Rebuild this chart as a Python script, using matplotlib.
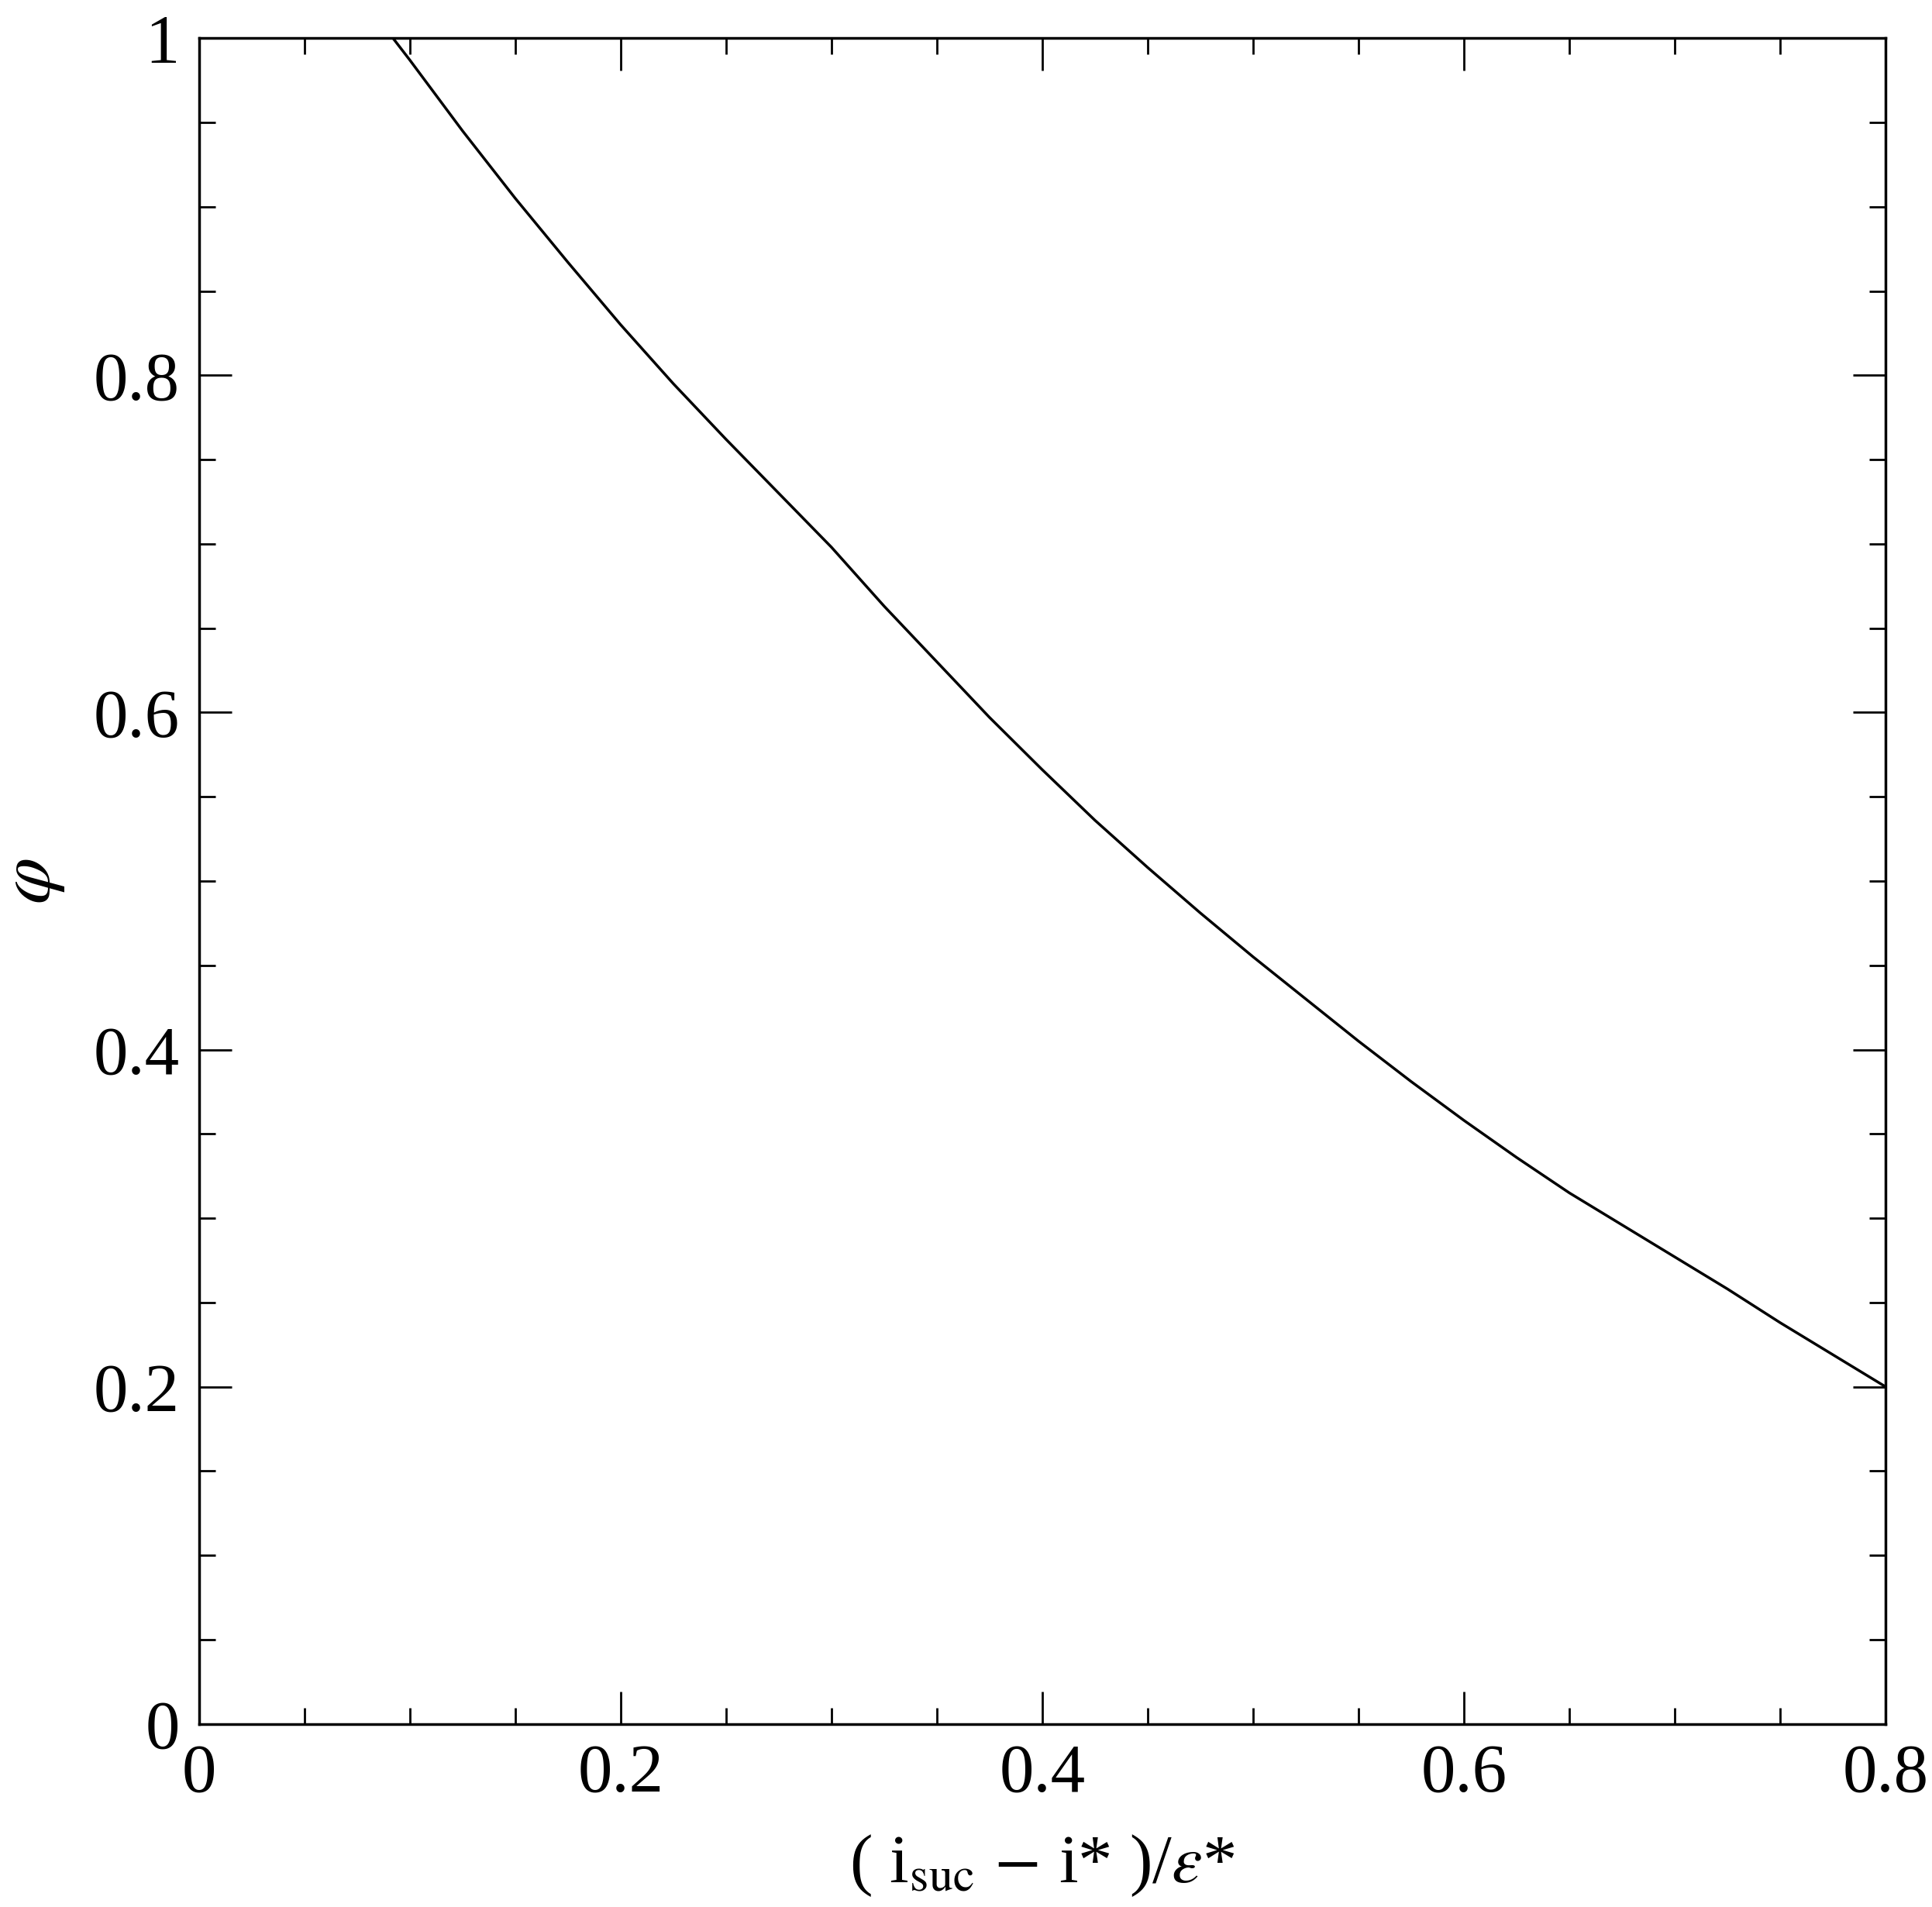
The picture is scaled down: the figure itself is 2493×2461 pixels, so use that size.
import matplotlib
matplotlib.use("Agg")
import matplotlib.pyplot as plt
from matplotlib.ticker import MultipleLocator

x_vals = [0.092, 0.1, 0.125, 0.15, 0.175, 0.2, 0.225, 0.25, 0.275, 0.3, 0.325, 0.35, 0.375, 0.4, 0.425, 0.45, 0.475,
          0.5, 0.525, 0.55, 0.575, 0.6, 0.625, 0.65, 0.675, 0.7, 0.725, 0.75, 0.775, 0.8]
phi_vals = [1.0, 0.987, 0.945, 0.905, 0.867, 0.83, 0.795, 0.762, 0.73, 0.698, 0.663, 0.63, 0.597, 0.566, 0.536, 0.508, 0.481,
            0.455, 0.43, 0.405, 0.381, 0.358, 0.336, 0.315, 0.296, 0.277, 0.258, 0.238, 0.219, 0.2]

plt.rcParams['font.family'] = ['Liberation Serif', 'DejaVu Serif']
plt.rcParams['mathtext.fontset'] = 'stix'

fig = plt.figure(figsize=(24.93, 24.61), dpi=100)
ax = fig.add_axes([0.103, 0.096, 0.873, 0.884])
ax.plot(x_vals, phi_vals, color='black', lw=2.5)
ax.set_xlim(0, 0.8)
ax.set_ylim(0, 1)
ax.set_xticks([0, 0.2, 0.4, 0.6, 0.8])
ax.set_xticklabels(['0', '0.2', '0.4', '0.6', '0.8'])
ax.set_yticks([0, 0.2, 0.4, 0.6, 0.8, 1.0])
ax.set_yticklabels(['0', '0.2', '0.4', '0.6', '0.8', '1'])
ax.xaxis.set_minor_locator(MultipleLocator(0.05))
ax.yaxis.set_minor_locator(MultipleLocator(0.05))
ax.tick_params(which='both', direction='in', top=True, right=True, width=2, labelsize=64, pad=18)
ax.tick_params(which='major', length=30)
ax.tick_params(which='minor', length=15)
for s in ax.spines.values():
    s.set_linewidth(2.5)
ax.set_xlabel(r'( i$_{\rm suc}$ $-$ i* )/$\varepsilon$*', fontsize=64, labelpad=25)
ax.set_ylabel(r'$\varphi$', fontsize=70, labelpad=25)
fig.savefig('out.png', dpi=100)
